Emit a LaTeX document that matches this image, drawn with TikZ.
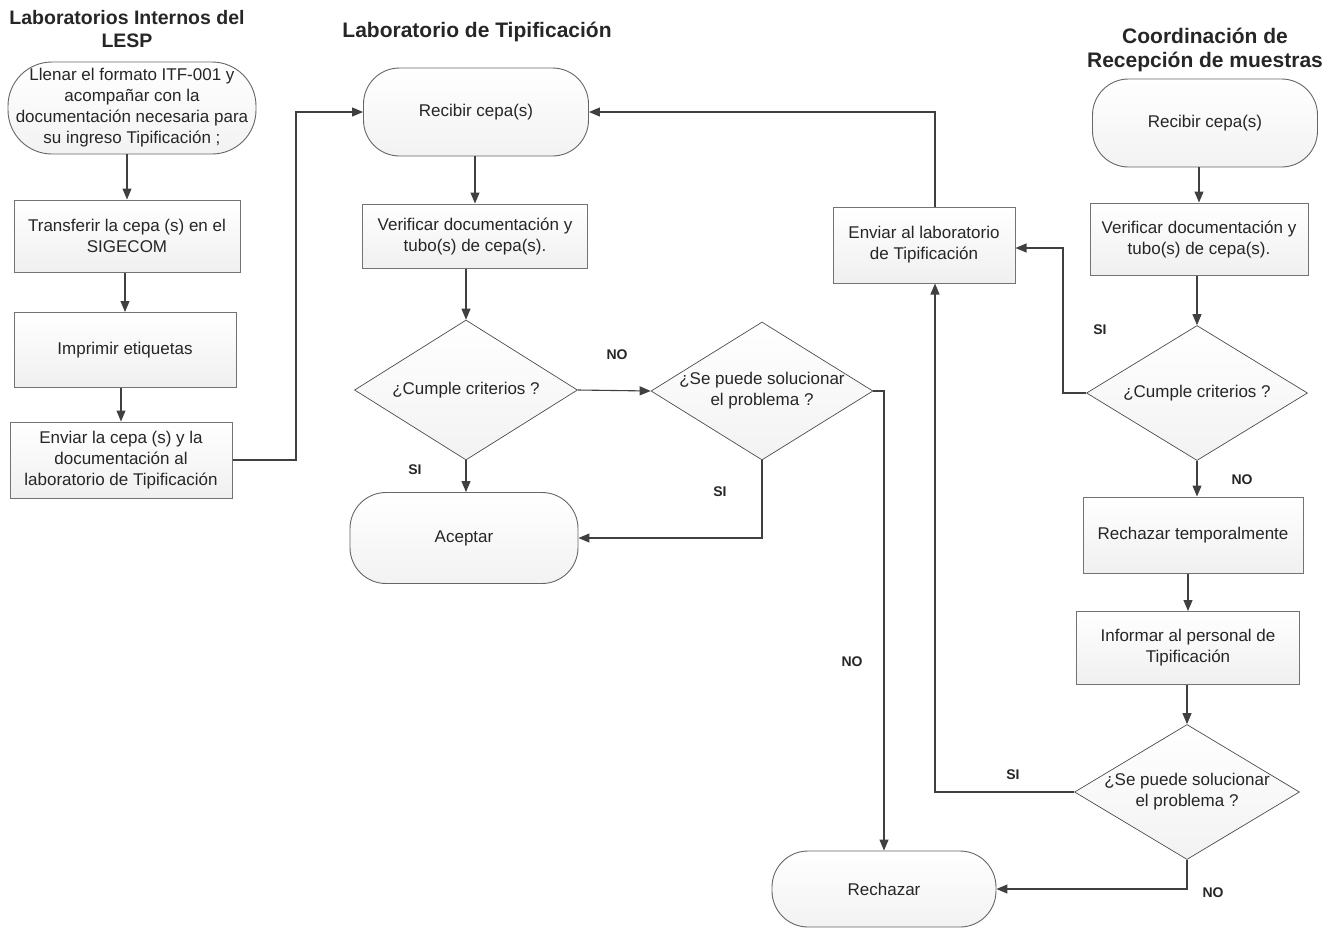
\documentclass[tikz,border=0pt]{standalone}
\usepackage{fontspec}
\setmainfont{Liberation Sans}
\usetikzlibrary{arrows.meta,shapes.geometric}
\begin{document}
\begin{tikzpicture}[x=1pt,y=-1pt,
  every node/.style={font=\fontsize{17}{21}\selectfont, align=center, text=black!85},
  sz/.style 2 args={minimum width=#1pt, minimum height=#2pt},
  term/.style={draw=black!60, line width=0.9pt, rounded corners=36pt, top color=white, bottom color=black!5, inner sep=0pt},
  proc/.style={draw=black!55, line width=1pt, top color=white, bottom color=black!6, inner sep=0pt},
  dia/.style={diamond, draw=black!70, line width=0.7pt, top color=white, bottom color=black!5, inner sep=0pt},
  ttl/.style={font=\bfseries\fontsize{21}{24}\selectfont, text=black!85},
  lbl/.style={font=\bfseries\fontsize{14}{16}\selectfont, text=black!85},
  conn/.style={draw=black!75, line width=1.1pt, -{Triangle[width=9pt,length=11pt]}}
]
\useasboundingbox (0,0) rectangle (1333,930);

% titles
\node[ttl, font=\bfseries\fontsize{19.5}{23.5}\selectfont] (t1) at (127,29) {Laboratorios Internos del\\LESP};
\node[ttl] (t2) at (477,32) {Laboratorio de Tipificación};
\node[ttl] (t3) at (1205,50) {Coordinación de\\Recepción de muestras};

% left column
\node[term, rounded corners=44pt, sz={248}{92}] (s1) at (132,108) {Llenar el formato ITF-001 y\\acompañar con la\\documentación necesaria para\\su ingreso Tipificación ;};
\node[proc, sz={226}{72}] (b1) at (127,236) {Transferir la cepa (s) en el\\SIGECOM};
\node[proc, sz={222}{75}] (b2) at (125,350) {Imprimir etiquetas};
\node[proc, sz={222}{76}] (b3) at (121,460) {Enviar la cepa (s) y la\\documentación al\\laboratorio de Tipificación};

% middle column
\node[term, sz={225}{88}] (r1) at (476,112) {Recibir cepa(s)};
\node[proc, sz={225}{64}] (v1) at (475,236) {Verificar documentación y\\tubo(s) de cepa(s).};
\node[dia, sz={223}{140}] (d1) at (466,390) {};
\node at (d1) {¿Cumple criterios ?};
\node[dia, sz={222}{138}] (d2) at (762,391) {};
\node at (d2) {¿Se puede solucionar\\el problema ?};
\node[term, sz={228}{91}] (a1) at (464,538) {Aceptar};
\node[term, sz={224}{76}] (rj) at (884,889) {Rechazar};

% right column
\node[proc, sz={182}{76}] (e1) at (924,245) {Enviar al laboratorio\\de Tipificación};
\node[term, sz={225}{88}] (r2) at (1205,123) {Recibir cepa(s)};
\node[proc, sz={218}{72}] (v2) at (1199,239) {Verificar documentación y\\tubo(s) de cepa(s).};
\node[dia, sz={221}{135}] (d3) at (1197,393) {};
\node at (d3) {¿Cumple criterios ?};
\node[proc, sz={220}{76}] (rt) at (1193,535) {Rechazar temporalmente};
\node[proc, sz={223}{73}] (inf) at (1188,648) {Informar al personal de\\Tipificación};
\node[dia, sz={225}{135}] (d4) at (1187,792) {};
\node at (d4) {¿Se puede solucionar\\el problema ?};

% connectors left
\draw[conn] (s1.south -| b1) -- (b1.north);
\draw[conn] (b1.south -| b2) -- (b2.north);
\draw[conn] (b2.south -| b3) -- (b3.north);
\draw[conn] (b3.east) -- (296,460) -- (296,112) -- (r1.west);

% middle
\draw[conn] (r1.south -| v1) -- (v1.north);
\draw[conn] (v1.south -| d1) -- (d1.north);
\draw[conn] (d1.east) -- (d2.west);
\draw[conn] (d1.south) -- (a1.north -| d1.south);
\draw[conn] (d2.south) -- (d2.south |- a1.east) -- (a1.east);
\draw[conn] (d2.east) -- (d2.east -| rj.north) -- (rj.north);

% right
\draw[conn] (e1.north -| 935,0) -- (935,112) -- (r1.east);
\draw[conn] (r2.south -| v2) -- (v2.north);
\draw[conn] (v2.south -| d3) -- (d3.north);
\draw[conn] (d3.west) -- (1063,393) -- (1063,248) -- (e1.east |- 0,248);
\draw[conn] (d3.south) -- (rt.north -| d3.south);
\draw[conn] (rt.south -| inf) -- (inf.north);
\draw[conn] (inf.south -| d4) -- (d4.north);
\draw[conn] (d4.west) -- (935,792) -- (e1.south -| 935,0);
\draw[conn] (d4.south) -- (d4.south |- rj.east) -- (rj.east);

% labels
\node[lbl] (l1) at (617,355) {NO};
\node[lbl] (l2) at (415,470) {SI};
\node[lbl] (l3) at (720,492) {SI};
\node[lbl] (l4) at (852,662) {NO};
\node[lbl] (l5) at (1100,330) {SI};
\node[lbl] (l6) at (1242,480) {NO};
\node[lbl] (l7) at (1013,775) {SI};
\node[lbl] (l8) at (1213,893) {NO};
\end{tikzpicture}
\end{document}
